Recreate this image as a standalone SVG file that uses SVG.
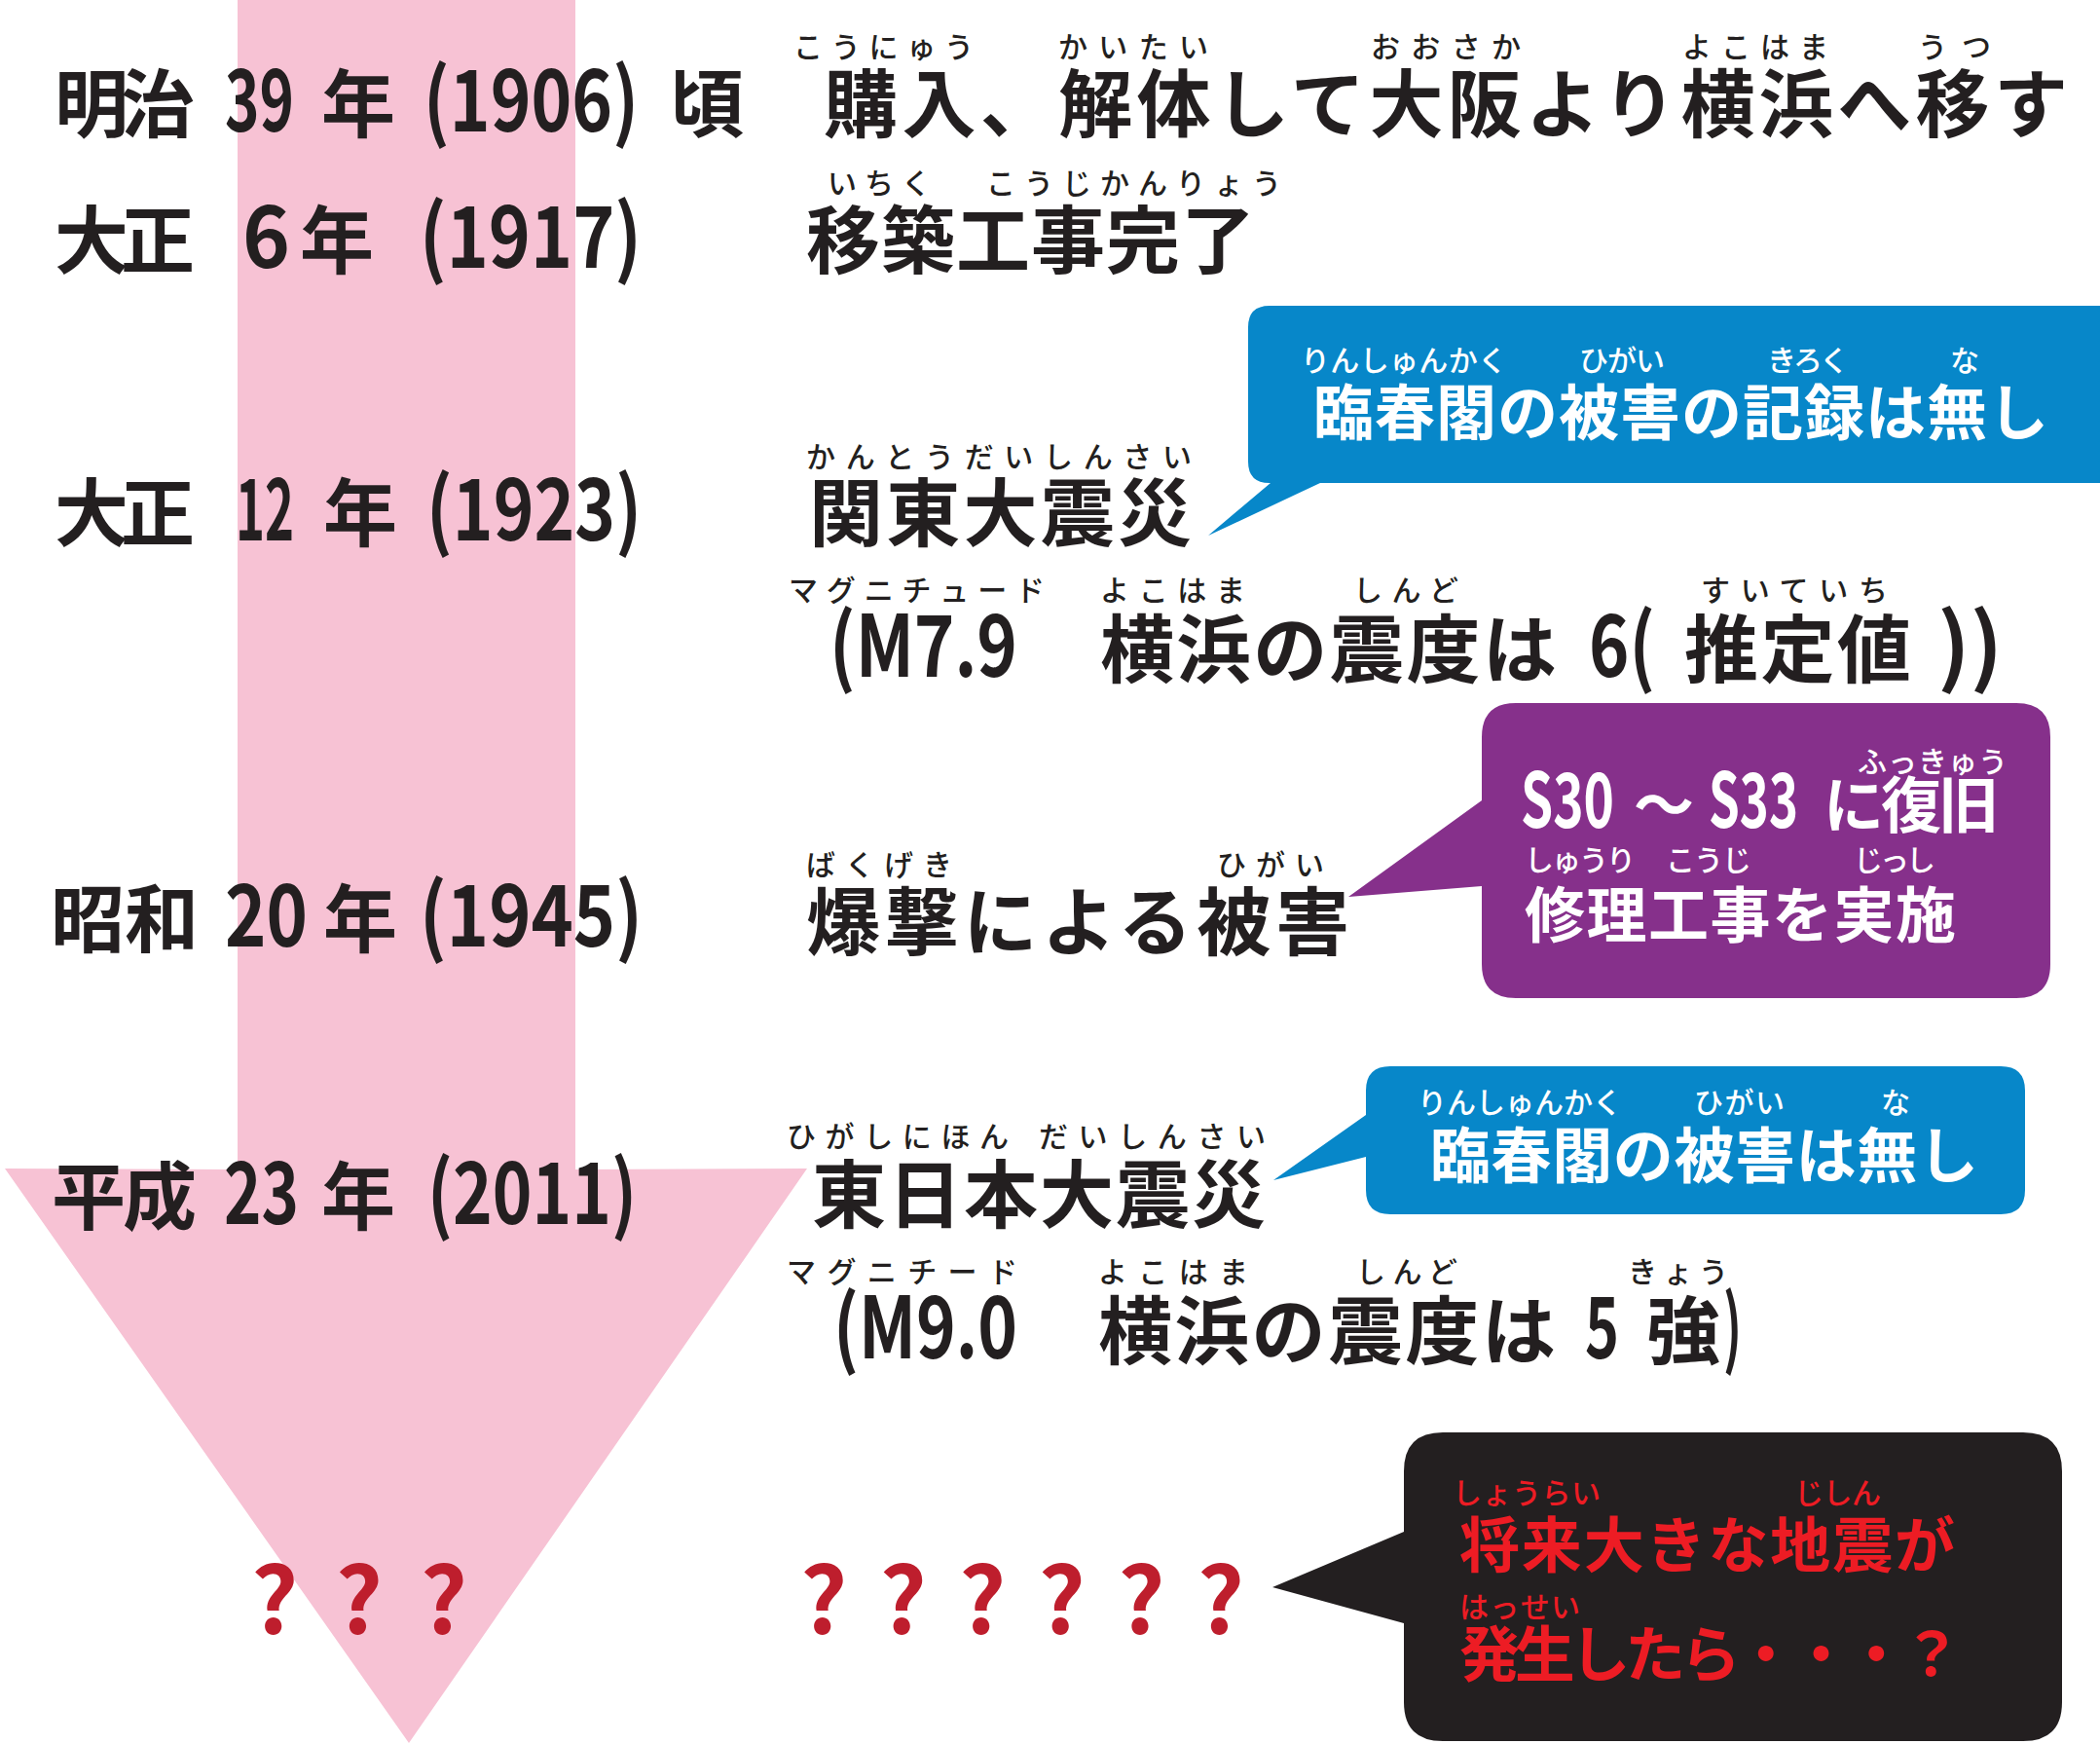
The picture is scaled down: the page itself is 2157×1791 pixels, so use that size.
<svg xmlns="http://www.w3.org/2000/svg" width="2157" height="1791" viewBox="0 0 2157 1791">
<style>
text{font-family:"Noto Sans CJK JP","Noto Sans",sans-serif;font-weight:700;fill:#231F20}
.k{font-size:76px}
.d{font-size:88px}
.b{font-size:62px}
.bd{font-size:78px}
.rb{font-size:30px;font-weight:500}
.w{fill:#FFFFFF}
.r{fill:#ED1C24}
.q{font-size:94px;fill:#BE1E2D;font-weight:700}
</style>
<rect width="2157" height="1791" fill="#FFFFFF"/>
<g id="timeline-arrow">
<polygon points="244,0 591,0 591,1201 829,1200 420,1790 5,1200 244,1201" fill="#F7C2D4"/>
</g>
<g id="connectors"></g>

<g id="row-1906">
<text class="k" x="56" y="135" textLength="144" lengthAdjust="spacing">明治</text>
<text class="d" x="231" y="135" textLength="71" lengthAdjust="spacingAndGlyphs">39</text>
<text class="k" x="330" y="135">年</text>
<text class="d" x="435" y="135" textLength="221" lengthAdjust="spacingAndGlyphs">(1906)</text>
<text class="k" x="688" y="135">頃</text>
<text class="rb" x="815" y="59" textLength="185" lengthAdjust="spacing">こうにゅう</text>
<text class="rb" x="1087" y="59" textLength="154" lengthAdjust="spacing">かいたい</text>
<text class="rb" x="1408" y="59" textLength="154" lengthAdjust="spacing">おおさか</text>
<text class="rb" x="1728" y="59" textLength="150" lengthAdjust="spacing">よこはま</text>
<text class="rb" x="1970" y="59" textLength="75" lengthAdjust="spacing">うつ</text>
<text class="k" x="846" y="135" textLength="1278" lengthAdjust="spacing">購入、解体して大阪より横浜へ移す</text>
</g>

<g id="row-1917">
<text class="k" x="56" y="275" textLength="144" lengthAdjust="spacing">大正</text>
<text class="d" x="249" y="275" textLength="49" lengthAdjust="spacingAndGlyphs">6</text>
<text class="k" x="308" y="275">年</text>
<text class="d" x="431" y="275" textLength="228" lengthAdjust="spacingAndGlyphs">(1917)</text>
<text class="rb" x="850" y="199" textLength="106" lengthAdjust="spacing">いちく</text>
<text class="rb" x="1013" y="199" textLength="303" lengthAdjust="spacing">こうじかんりょう</text>
<text class="k" x="828" y="275" textLength="461" lengthAdjust="spacing">移築工事完了</text>
</g>

<g id="row-1923">
<text class="k" x="56" y="555" textLength="144" lengthAdjust="spacing">大正</text>
<text class="d" x="242" y="555" textLength="60" lengthAdjust="spacingAndGlyphs">12</text>
<text class="k" x="332" y="555">年</text>
<text class="d" x="438" y="555" textLength="221" lengthAdjust="spacingAndGlyphs">(1923)</text>
<text class="rb" x="828" y="480" textLength="396" lengthAdjust="spacing">かんとうだいしんさい</text>
<text class="k" x="831" y="555" textLength="393" lengthAdjust="spacing">関東大震災</text>
<text class="rb" x="810" y="617" textLength="263" lengthAdjust="spacing">マグニチュード</text>
<text class="rb" x="1130" y="617" textLength="149" lengthAdjust="spacing">よこはま</text>
<text class="rb" x="1390" y="617" textLength="108" lengthAdjust="spacing">しんど</text>
<text class="rb" x="1747" y="617" textLength="192" lengthAdjust="spacing">すいていち</text>
<text class="d" x="852" y="695" textLength="193" lengthAdjust="spacingAndGlyphs">(M7.9</text>
<text class="k" x="1130" y="695" textLength="469" lengthAdjust="spacing">横浜の震度は</text>
<text class="d" x="1632" y="695" textLength="68" lengthAdjust="spacingAndGlyphs">6(</text>
<text class="k" x="1730" y="695" textLength="233" lengthAdjust="spacing">推定値</text>
<text class="d" x="1990" y="695" textLength="67" lengthAdjust="spacingAndGlyphs">))</text>
</g>

<g id="bubble-1923">
<path d="M1304 314 H2157 V496 H1356 L1241 550 L1305 496 H1304 Q1282 496 1282 474 V336 Q1282 314 1304 314 Z" fill="#0787C9"/>
<text class="rb w" x="1336" y="381" textLength="212" lengthAdjust="spacing">りんしゅんかく</text>
<text class="rb w" x="1622" y="381" textLength="88" lengthAdjust="spacing">ひがい</text>
<text class="rb w" x="1815" y="381" textLength="84" lengthAdjust="spacing">きろく</text>
<text class="rb w" x="2003" y="381">な</text>
<text class="b w" x="1349" y="447" textLength="755" lengthAdjust="spacing">臨春閣の被害の記録は無し</text>
</g>

<g id="row-1945">
<text class="k" x="52" y="972" textLength="152" lengthAdjust="spacing">昭和</text>
<text class="d" x="231" y="972" textLength="85" lengthAdjust="spacingAndGlyphs">20</text>
<text class="k" x="332" y="972">年</text>
<text class="d" x="431" y="972" textLength="229" lengthAdjust="spacingAndGlyphs">(1945)</text>
<text class="rb" x="828" y="899" textLength="150" lengthAdjust="spacing">ばくげき</text>
<text class="rb" x="1250" y="899" textLength="110" lengthAdjust="spacing">ひがい</text>
<text class="k" x="828" y="975" textLength="558" lengthAdjust="spacing">爆撃による被害</text>
</g>

<g id="bubble-1945">
<path d="M1557 722 H2071 Q2106 722 2106 757 V990 Q2106 1025 2071 1025 H1557 Q1522 1025 1522 990 V910 L1385 921 L1522 822 V757 Q1522 722 1557 722 Z" fill="#86308B"/>
<text class="rb w" x="1908" y="793" textLength="154" lengthAdjust="spacing">ふっきゅう</text>
<text class="bd w" x="1562" y="850" textLength="96" lengthAdjust="spacingAndGlyphs">S30</text>
<text class="b w" x="1678" y="850">～</text>
<text class="bd w" x="1755" y="850" textLength="92" lengthAdjust="spacingAndGlyphs">S33</text>
<text class="b w" x="1873" y="850" textLength="180" lengthAdjust="spacing">に復旧</text>
<text class="rb w" x="1566" y="894" textLength="114" lengthAdjust="spacing">しゅうり</text>
<text class="rb w" x="1711" y="894" textLength="88" lengthAdjust="spacing">こうじ</text>
<text class="rb w" x="1904" y="894" textLength="84" lengthAdjust="spacing">じっし</text>
<text class="b w" x="1566" y="963" textLength="443" lengthAdjust="spacing">修理工事を実施</text>
</g>

<g id="row-2011">
<text class="k" x="53" y="1257" textLength="149" lengthAdjust="spacing">平成</text>
<text class="d" x="230" y="1257" textLength="77" lengthAdjust="spacingAndGlyphs">23</text>
<text class="k" x="330" y="1257">年</text>
<text class="d" x="439" y="1257" textLength="215" lengthAdjust="spacingAndGlyphs">(2011)</text>
<text class="rb" x="808" y="1178" textLength="228" lengthAdjust="spacing">ひがしにほん</text>
<text class="rb" x="1067" y="1178" textLength="233" lengthAdjust="spacing">だいしんさい</text>
<text class="k" x="834" y="1255" textLength="466" lengthAdjust="spacing">東日本大震災</text>
<text class="rb" x="808" y="1317" textLength="237" lengthAdjust="spacing">マグニチード</text>
<text class="rb" x="1128" y="1317" textLength="154" lengthAdjust="spacing">よこはま</text>
<text class="rb" x="1393" y="1317" textLength="104" lengthAdjust="spacing">しんど</text>
<text class="rb" x="1672" y="1317" textLength="103" lengthAdjust="spacing">きょう</text>
<text class="d" x="856" y="1395" textLength="189" lengthAdjust="spacingAndGlyphs">(M9.0</text>
<text class="k" x="1128" y="1395" textLength="470" lengthAdjust="spacing">横浜の震度は</text>
<text class="d" x="1628" y="1395" textLength="35" lengthAdjust="spacingAndGlyphs">5</text>
<text class="k" x="1691" y="1395">強</text>
<text class="d" x="1770" y="1395" textLength="19" lengthAdjust="spacingAndGlyphs">)</text>
</g>

<g id="bubble-2011">
<path d="M1428 1095 H2055 Q2080 1095 2080 1120 V1222 Q2080 1247 2055 1247 H1428 Q1403 1247 1403 1222 V1188 L1308 1212 L1403 1145 V1120 Q1403 1095 1428 1095 Z" fill="#0787C9"/>
<text class="rb w" x="1456" y="1143" textLength="210" lengthAdjust="spacing">りんしゅんかく</text>
<text class="rb w" x="1740" y="1143" textLength="93" lengthAdjust="spacing">ひがい</text>
<text class="rb w" x="1932" y="1143">な</text>
<text class="b w" x="1469" y="1210" textLength="563" lengthAdjust="spacing">臨春閣の被害は無し</text>
</g>

<g id="row-future">
<text class="q" x="258" y="1678" textLength="222" lengthAdjust="spacing">???</text>
<text class="q" x="822" y="1678" textLength="456" lengthAdjust="spacing">??????</text>
</g>

<g id="bubble-future">
<path d="M1482 1471 H2078 Q2118 1471 2118 1511 V1748 Q2118 1788 2078 1788 H1482 Q1442 1788 1442 1748 V1667 L1307 1630 L1442 1573 V1511 Q1442 1471 1482 1471 Z" fill="#231F20"/>
<text class="rb r" x="1492" y="1544" textLength="152" lengthAdjust="spacing">しょうらい</text>
<text class="rb r" x="1843" y="1544" textLength="89" lengthAdjust="spacing">じしん</text>
<text class="b r" x="1499" y="1610" textLength="509" lengthAdjust="spacing">将来大きな地震が</text>
<text class="rb r" x="1499" y="1661" textLength="124" lengthAdjust="spacing">はっせい</text>
<text class="b r" x="1499" y="1722" textLength="516" lengthAdjust="spacing">発生したら・・・？</text>
</g>
</svg>
